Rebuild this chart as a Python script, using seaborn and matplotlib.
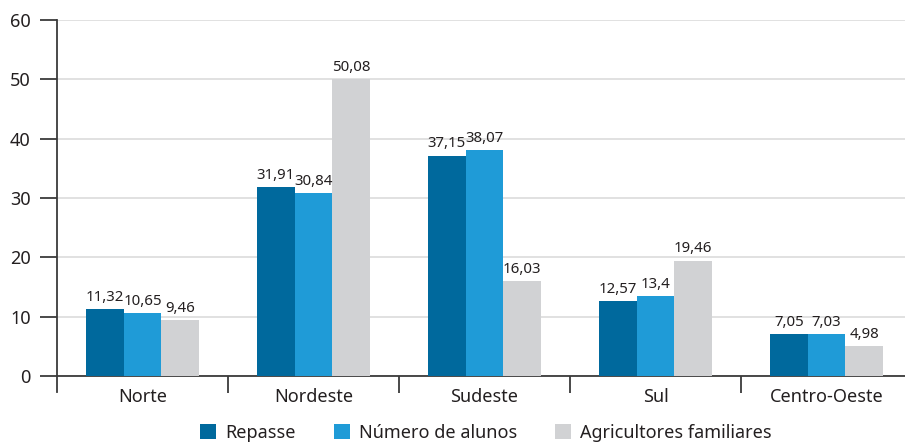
import matplotlib
matplotlib.use("Agg")
import matplotlib.pyplot as plt
from matplotlib.patches import Patch
import seaborn as sns
import pandas as pd

regions = ["Norte", "Nordeste", "Sudeste", "Sul", "Centro-Oeste"]
series = ["Repasse", "Número de alunos", "Agricultores familiares"]
repasse = [11.32, 31.91, 37.15, 12.57, 7.05]
alunos = [10.65, 30.84, 38.07, 13.4, 7.03]
agricultores = [9.46, 50.08, 16.03, 19.46, 4.98]
yticks = [0, 10, 20, 30, 40, 50, 60]

colors = ["#00699d", "#1f9bd7", "#d1d2d4"]
text_color = "#231f20"

df = pd.DataFrame({
    "Região": regions * 3,
    "Série": [s for s in series for _ in regions],
    "Valor": repasse + alunos + agricultores,
})

sns.set_theme(style="white")
plt.rcParams["font.family"] = ["Noto Sans", "DejaVu Sans"]

fig = plt.figure(figsize=(9.05, 4.45), dpi=100)
ax = fig.add_axes([57 / 905, 69 / 445, 855 / 905, 356 / 445])

sns.barplot(data=df, x="Região", y="Valor", hue="Série", order=regions,
            hue_order=series, palette=colors, width=0.66, gap=0,
            saturation=1, linewidth=0, legend=False, ax=ax, zorder=3)

ax.set_xlim(-0.5, 4.5)
ax.set_ylim(0, 60)
ax.set_yticks(yticks)
ax.set_yticklabels([str(v) for v in yticks])
ax.yaxis.grid(True, color="#dcdcdc", linewidth=1.2, zorder=0)
ax.set_axisbelow(True)
ax.set_xlabel("")
ax.set_ylabel("")

for side in ["top", "right"]:
    ax.spines[side].set_visible(False)
for side in ["left", "bottom"]:
    ax.spines[side].set_color("#3a3a3a")
    ax.spines[side].set_linewidth(1.3)
ax.spines["left"].set_bounds(-2.75, 60)

ax.tick_params(axis="y", which="major", length=12, width=1.3, color="#3a3a3a",
               labelsize=13, labelcolor=text_color, pad=7, left=True)
ax.set_xticks(range(len(regions)))
ax.set_xticklabels(regions)
ax.tick_params(axis="x", which="major", length=0, labelsize=13,
               labelcolor=text_color, pad=9)
ax.set_xticks([i + 0.5 for i in range(len(regions) - 1)], minor=True)
ax.tick_params(axis="x", which="minor", length=12, width=1.3,
               color="#3a3a3a", bottom=True)

for container in ax.containers:
    labels = [f"{b.get_height():g}".replace(".", ",") for b in container]
    ax.bar_label(container, labels=labels, padding=3, fontsize=10.8,
                 color=text_color)

handles = [Patch(facecolor=c, edgecolor="none") for c in colors]
fig.legend(handles, series, loc="center", bbox_to_anchor=(486 / 905, 12 / 445),
           ncol=3, frameon=False, fontsize=13, handlelength=0.9,
           handleheight=0.9, handletextpad=0.5, columnspacing=2.1,
           labelcolor=text_color)

fig.savefig("out.png", dpi=100)
